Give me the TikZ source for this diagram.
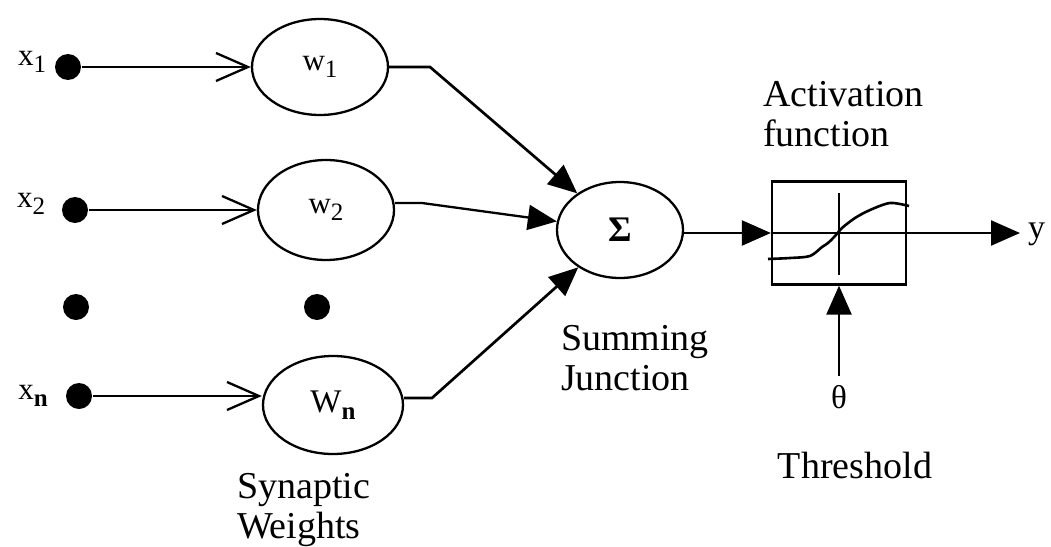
\documentclass[tikz,border=0pt]{standalone}
\usepackage{fontspec}
\setmainfont{Liberation Serif}
\usetikzlibrary{arrows.meta,shapes.geometric}

\tikzset{
  every path/.style={line width=2.3pt},
  weight/.style={draw, ellipse, inner sep=0pt, minimum width=136pt, minimum height=96pt,
                 font=\fontsize{31}{31}\selectfont},
  inputdot/.style={circle, fill=black, inner sep=0pt, minimum size=26pt},
  lbl/.style={inner sep=0pt, font=\fontsize{31}{31}\selectfont},
  caption/.style={inner sep=0pt, align=left, font=\fontsize{38}{40}\selectfont},
  openarr/.style={-{Straight Barb[length=32pt,width=28pt]}},
  solidarr/.style={-{Triangle[length=29pt,width=25pt]}},
}
\newcommand{\lowsub}[1]{\raisebox{-7pt}{\fontsize{25}{25}\selectfont #1}}

\begin{document}
\begin{tikzpicture}[x=1pt,y=-1pt]
  \useasboundingbox (0,0) rectangle (1051,546);

  % inputs
  \node[inputdot] (x1) at (68,67) {};
  \node[inputdot] (x2) at (75,210) {};
  \node[inputdot] (dotA) at (76,307) {};
  \node[inputdot] (xn) at (79,396) {};
  \node[lbl] (lx1) at (32,62) {x\lowsub{1}};
  \node[lbl] (lx2) at (31,204) {x\lowsub{2}};
  \node[lbl] (lxn) at (33,396) {x\lowsub{\textbf{n}}};

  % synaptic weights
  \node[weight] (w1) at (320,67) {w\lowsub{1}};
  \node[weight, minimum height=100pt] (w2) at (326,210) {w\lowsub{2}};
  \node[inputdot] (dotB) at (317,307) {};
  \node[weight, minimum width=140pt, minimum height=98pt] (wn) at (333,405)
       {\fontsize{33}{33}\selectfont W\lowsub{\textbf{n}}};

  \draw[openarr] (x1) -- (w1.west);
  \draw[openarr] (x2) -- (w2.west);
  \draw[openarr] (xn) -- (w2.west |- xn) -- (wn.west |- xn);

  % summing junction
  \node[draw, ellipse, inner sep=0pt, minimum width=126pt, minimum height=96pt] (sum) at (620,230)
       {\fontsize{36}{36}\selectfont\textbf{Σ}};

  \coordinate (b1) at (430,67);
  \coordinate (b2) at (422,203);
  \coordinate (b3) at (432,398);
  \coordinate (e1) at (w1.east |- b1);
  \coordinate (e2) at (w2.east |- b2);
  \coordinate (e3) at (wn.east |- b3);
  \draw[solidarr, line width=2.7pt] (e1) -- (b1) -- (sum);
  \draw[solidarr] (e2) -- (b2) -- (sum);
  \draw[solidarr, line width=2.7pt] (e3) -- (b3) -- (sum);

  % activation function
  \node[draw, rectangle, inner sep=0pt, minimum width=134pt, minimum height=103pt] (act) at (839,233) {};
  \draw (act.west) -- (act.east);
  \draw (839,193) -- (839,275);
  \draw[line width=2.6pt] plot[smooth] coordinates
    {(768,259) (790,258) (810,256) (822,247) (828,243) (835,236) (842,228)
     (855,218) (870,210) (890,203) (909,206)};

  \draw[solidarr] (sum.east |- act.west) -- (act.west);

  \node[inner sep=0pt, font=\fontsize{34}{34}\selectfont, anchor=west] (y) at (1027,234) {y};
  \draw[solidarr] (act.east) -- (1020,233);

  \node[lbl, font=\fontsize{33}{33}\selectfont] (theta) at (839,397) {θ};
  \draw[solidarr] (theta.north) ++(0,-8) coordinate (tt) (tt) -- (act.south);

  % captions
  \node[caption, anchor=north west] (actlbl) at (762,80) {Activation\\function};
  \node[caption, anchor=north west] (sumlbl) at (560,324) {Summing\\Junction};
  \node[caption, anchor=north] (thr) at (855,451) {Threshold};
  \node[caption, anchor=north west] (syn) at (236,472) {Synaptic\\Weights};
\end{tikzpicture}
\end{document}
